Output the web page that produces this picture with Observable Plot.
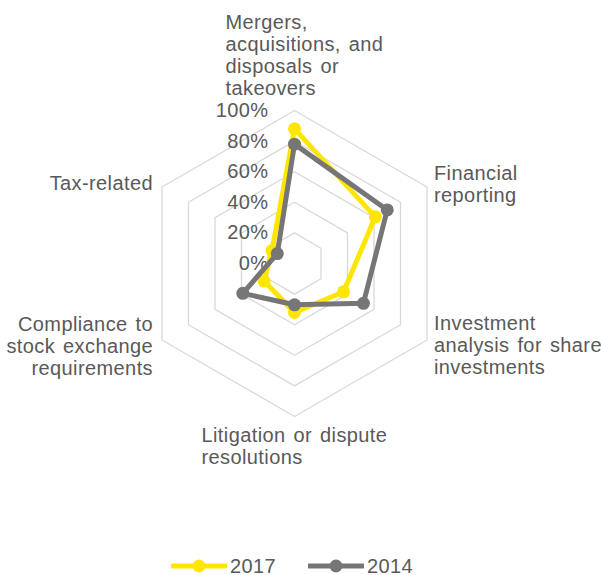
<!DOCTYPE html>
<html>
<head>
<meta charset="utf-8">
<script src="https://cdn.jsdelivr.net/npm/d3@7"></script>
<script src="https://cdn.jsdelivr.net/npm/@observablehq/plot@0.6"></script>
<style>
  body { margin: 0; background: #fff; font-family: "Liberation Sans", Arial, sans-serif; }
  #chart { width: 601px; }
  #chart svg text { letter-spacing: 0.4px; word-spacing: 2px; }
  .legend { display: flex; justify-content: center; align-items: center; height: 35px; box-sizing: border-box; padding-top: 17px; padding-right: 17px; gap: 32px; color: #595959; font-size: 20px; letter-spacing: 0.4px; }
  .legend .item { display: flex; align-items: center; gap: 3px; }
</style>
</head>
<body>
<div id="chart"></div>
<script>
// ---- data ----
const categories = [
  "Mergers,\nacquisitions, and\ndisposals or\ntakeovers",
  "Financial\nreporting",
  "Investment\nanalysis for share\ninvestments",
  "Litigation or dispute\nresolutions",
  "Compliance to\nstock exchange\nrequirements",
  "Tax-related"
];
const series = ["2017", "2014"];
const values2017 = [88, 61, 37, 32, 23, 17];
const values2014 = [78, 70, 52, 27, 39, 13];
const tickValues = [0, 20, 40, 60, 80, 100];
const tickLabels = ["0%", "20%", "40%", "60%", "80%", "100%"];
const gridRings = [20, 40, 60, 80, 100];

// ---- helpers ----
const N = categories.length;
const ang = i => (i * 2 * Math.PI) / N;
const px = (i, r) => r * Math.sin(ang(i));
const py = (i, r) => r * Math.cos(ang(i));

const colors = ["#FFE600", "#767676"];
const textColor = "#595959";
const FONT = 20;

const gridData = gridRings.flatMap(r => categories.map((c, i) => ({ring: r, x: px(i, r), y: py(i, r)})));
const valueSets = {"2017": values2017, "2014": values2014};
const points = series.flatMap(s => valueSets[s].map((v, i) => ({series: s, cat: categories[i], x: px(i, v), y: py(i, v)})));

// label placement (pixel offsets from the 100% vertex)
const labelLayout = [
  {anchor: "start", dx: -69, dy: -56},
  {anchor: "start", dx: 7, dy: -3},
  {anchor: "start", dx: 7, dy: 5},
  {anchor: "start", dx: -93, dy: 29},
  {anchor: "end", dx: -9, dy: 6},
  {anchor: "end", dx: -9, dy: -4}
];

const seriesMarks = series.flatMap(s => [
  Plot.line(points.filter(d => d.series === s), {x: "x", y: "y", stroke: "series", strokeWidth: 5, curve: "linear-closed", strokeLinejoin: "round"}),
  Plot.dot(points.filter(d => d.series === s), {x: "x", y: "y", fill: "series", r: 6.5})
]);

const labelMarks = categories.map((c, i) => Plot.text([c], {
  x: () => px(i, 100), y: () => py(i, 100), text: d => d,
  textAnchor: labelLayout[i].anchor, lineAnchor: "middle",
  dx: labelLayout[i].dx, dy: labelLayout[i].dy,
  fontSize: FONT, fill: textColor, lineHeight: 1.1
}));

const chart = Plot.plot({
  width: 601,
  height: 540,
  margin: 0,
  x: {domain: [-100, 100], range: [294 - 153, 294 + 153], axis: null},
  y: {domain: [-100, 100], range: [263 + 153, 263 - 153], axis: null},
  color: {domain: series, range: colors},
  style: {fontFamily: "'Liberation Sans', Arial, sans-serif", background: "#fff", overflow: "visible"},
  marks: [
    Plot.line(gridData, {x: "x", y: "y", z: "ring", stroke: "#d9d9d9", strokeWidth: 1.3, curve: "linear-closed"}),
    Plot.text(tickValues, {x: () => 0, y: d => d, text: (d, i) => tickLabels[i], textAnchor: "end", dx: -26, fontSize: FONT, fill: textColor}),
    ...seriesMarks,
    ...labelMarks
  ]
});
document.getElementById("chart").appendChild(chart);

// legend
const legend = document.createElement("div");
legend.className = "legend";
series.forEach((s, k) => {
  const item = document.createElement("div");
  item.className = "item";
  item.innerHTML = `<svg width="56" height="14"><line x1="1" y1="7" x2="55" y2="7" stroke="${colors[k]}" stroke-width="5" stroke-linecap="round"/><circle cx="28" cy="7" r="6.5" fill="${colors[k]}"/></svg><span>${s}</span>`;
  legend.appendChild(item);
});
document.getElementById("chart").appendChild(legend);
</script>
</body>
</html>
